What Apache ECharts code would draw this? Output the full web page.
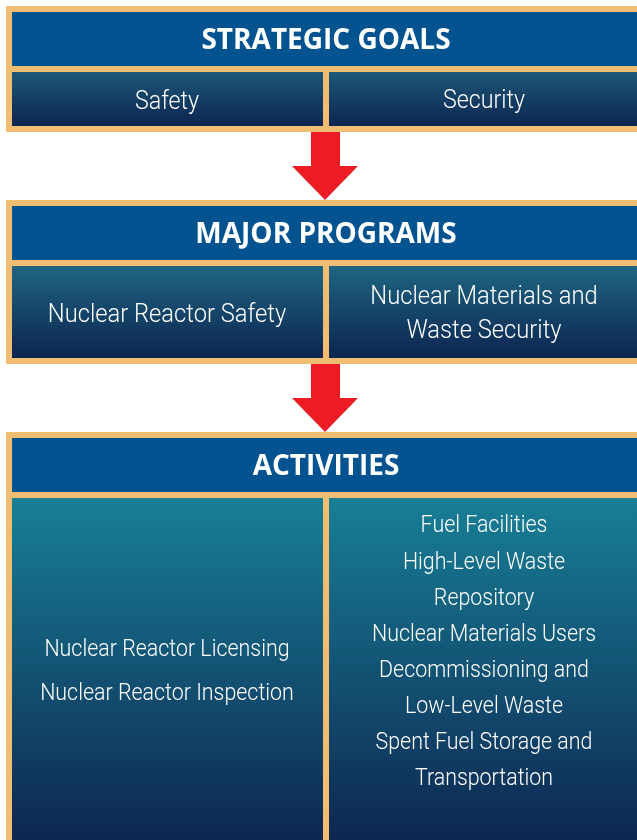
<!DOCTYPE html>
<html>
<head>
	<meta charset="utf-8">
	<title></title>
	<style type="text/css">
		html, body { margin: 0; padding: 0; background: #fff; }
		#main { width: 637px; height: 840px; }
	</style>
	<script src='https://cdn.jsdelivr.net/npm/echarts@6/dist/echarts.min.js'></script>
</head>
<body>
	<div id="main"></div>

	<script type="text/javascript">
		// level titles and the text of the two columns under each one
		var titles = ['STRATEGIC GOALS', 'MAJOR PROGRAMS', 'ACTIVITIES'];
		var leftText = [
			['Safety'],
			['Nuclear Reactor Safety'],
			['Nuclear Reactor Licensing', 'Nuclear Reactor Inspection']
		];
		var rightText = [
			['Security'],
			['Nuclear Materials and', 'Waste Security'],
			['Fuel Facilities', 'High-Level Waste', 'Repository', 'Nuclear Materials Users',
			 'Decommissioning and', 'Low-Level Waste', 'Spent Fuel Storage and', 'Transportation']
		];

		// layout of the three boxes
		var boxTop = [6, 200, 432];
		var cellH = [54, 92, 360];
		var fontSize = [25, 25.5, 23];
		var leftSpacing = [0, 0, 44];
		var rightSpacing = [0, 34, 36.1];
		var cellTopColor = ['#1d5878', '#1f6582', '#187f96'];
		var cellBottomColor = ['#0c2550', '#0c2550', '#0d224e'];

		var orange = '#f1bd72';
		var blue = '#035391';
		var font = 'Roboto';

		var chart = echarts.init(document.getElementById('main'));
		var elements = [];

		function lines(arr, cx, cy, gap, size) {
			var n = arr.length;
			for (var i = 0; i < n; i++) {
				elements.push({
					type: 'text',
					x: cx,
					y: cy + (i - (n - 1) / 2) * gap,
					scaleX: 0.93,
					style: {
						text: arr[i],
						fill: '#ffffff',
						font: '300 ' + size + 'px ' + font,
						align: 'center',
						verticalAlign: 'middle'
					}
				});
			}
		}

		for (var b = 0; b < titles.length; b++) {
			var t = boxTop[b];
			var hTop = t + 6;
			var cTop = hTop + 60;
			var cBot = cTop + cellH[b];
			// orange frame
			elements.push({ type: 'rect', shape: { x: 6, y: t, width: 660, height: cBot - t + 6 }, style: { fill: orange } });
			// blue header
			elements.push({ type: 'rect', shape: { x: 12, y: hTop, width: 660, height: 54 }, style: { fill: blue } });
			elements.push({
				type: 'text', x: 326, y: hTop + 29,
				style: { text: titles[b], fill: '#fff', font: 'bold 28px "Open Sans"', align: 'center', verticalAlign: 'middle' }
			});
			var grad = new echarts.graphic.LinearGradient(0, 0, 0, 1, [
				{ offset: 0, color: cellTopColor[b] },
				{ offset: 1, color: cellBottomColor[b] }
			]);
			elements.push({ type: 'rect', shape: { x: 12, y: cTop, width: 311, height: cellH[b] }, style: { fill: grad } });
			elements.push({ type: 'rect', shape: { x: 329, y: cTop, width: 340, height: cellH[b] }, style: { fill: grad } });

			var mid = cTop + cellH[b] / 2;
			if (b === 2) {
				lines(leftText[b], 167, 672, leftSpacing[b], fontSize[b]);
				lines(rightText[b], 484, 653, rightSpacing[b], fontSize[b]);
			} else {
				lines(leftText[b], 167, mid + 4, leftSpacing[b], fontSize[b]);
				lines(rightText[b], 484, mid + 3, rightSpacing[b], fontSize[b]);
			}

			// red arrow down to the next box
			if (b < titles.length - 1) {
				var y0 = cBot + 6;
				var y2 = boxTop[b + 1];
				var y1 = y0 + (y2 - y0) / 2;
				elements.push({
					type: 'polygon',
					shape: { points: [[311, y0], [340, y0], [340, y1], [358, y1], [325, y2], [292, y1], [311, y1]] },
					style: { fill: '#ed1c24' }
				});
			}
		}

		chart.setOption({
			animation: false,
			graphic: { elements: elements }
		});
	</script>
</body>
</html>
